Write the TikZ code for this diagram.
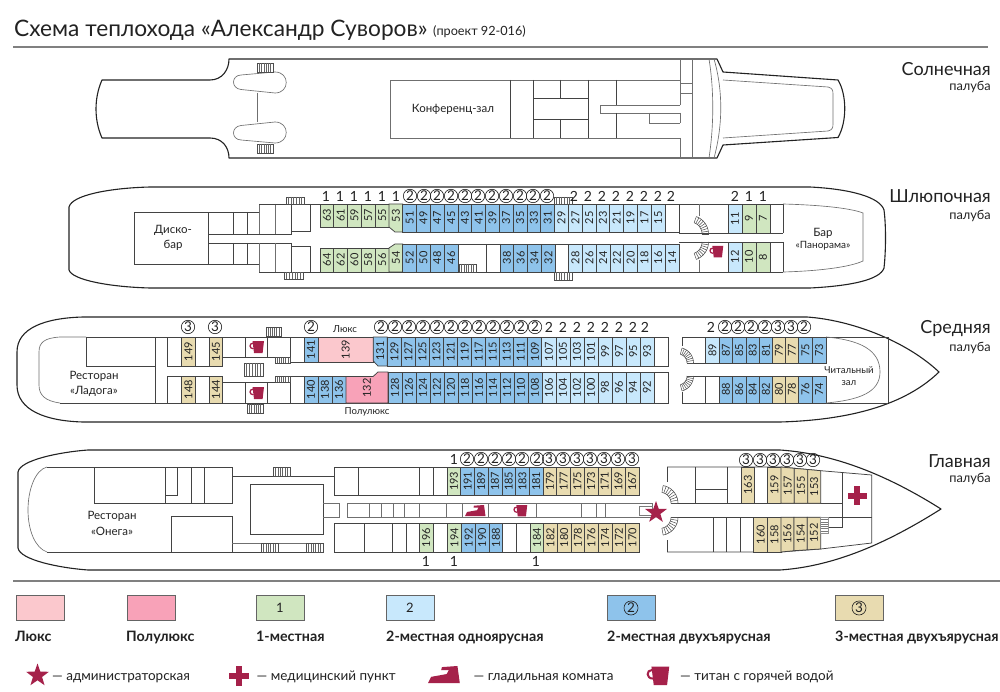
\documentclass[tikz,border=0pt]{standalone}
\usepackage{fontspec}
\setmainfont{Lato}
\usetikzlibrary{shapes.geometric}
\definecolor{lux}{HTML}{FBC8CD}
\definecolor{semi}{HTML}{F8A2B8}
\definecolor{one}{HTML}{D0E6C0}
\definecolor{twol}{HTML}{C8E8FC}
\definecolor{twod}{HTML}{8EC3EB}
\definecolor{three}{HTML}{E8DBB0}
\definecolor{crim}{HTML}{A5214A}
\definecolor{ink}{HTML}{222222}
\newcommand{\fs}[1]{\fontsize{#1}{#1}\selectfont}
\tikzset{
  hull/.style={draw=ink,line width=1.1pt,line join=round},
  wall/.style={draw=ink!85,line width=0.75pt},
  thin wall/.style={draw=ink!65,line width=0.65pt},
  cabnum/.style={rotate=90,inner sep=0pt,font=\fs{11},text=ink},
  plainnum/.style={inner sep=0pt,font=\fs{14},text=ink},
  circnum/.style={draw=ink,circle,line width=0.6pt,inner sep=0pt,minimum size=13.4pt,font=\fs{13.5},text=ink},
  deckname/.style={anchor=base east,inner sep=0pt,font=\fs{18},text=ink},
  decksub/.style={anchor=base east,inner sep=0pt,font=\fs{12.8},text=ink},
  roomtxt/.style={inner sep=0pt,font=\fs{11.5},text=ink,align=center},
  smalltxt/.style={inner sep=0pt,font=\fs{9.6},text=ink,align=center},
  legtxt/.style={anchor=base west,inner sep=0pt,font=\bfseries\fs{14.3},text=ink},
  icotxt/.style={anchor=base west,inner sep=0pt,font=\fs{13.5},text=ink},
  staredge/.style={star,star points=5,star point ratio=2.5,fill=crim,inner sep=0pt},
}
\newcommand{\cabin}[6]{%
  \path[fill=#5] (#1,#3) rectangle (#2,#4);
  \path[wall] (#1,#3) rectangle (#2,#4);
  \node[cabnum] (c#6) at ({(#1+#2)/2},{(#3+#4)/2}) {#6};}
\newcommand{\cabrow}[6]{%
  \foreach \n [count=\k from 0] in {#6}{%
    \pgfmathsetmacro\xa{#1+#2*\k}\pgfmathsetmacro\xb{\xa+#2}%
    \cabin{\xa}{\xb}{#3}{#4}{#5}{\n}}}
% colour, polygon, label x, label y, number
\newcommand{\cabpoly}[5]{%
  \path[fill=#1] #2 -- cycle;
  \path[wall] #2 -- cycle;
  \node[cabnum] (c#5) at (#3,#4) {#5};}
\newcommand{\vstair}[4]{%
  \path[fill=white,draw=ink!80,line width=0.6pt] (#1,#2) rectangle (#3,#4);
  \foreach \i in {1,...,6}{\draw[ink!70,line width=0.55pt] ({#1+(#3-#1)*\i/7},#2) -- ({#1+(#3-#1)*\i/7},#4);}}
\newcommand{\hstair}[4]{%
  \path[fill=white,draw=ink!50,line width=0.5pt] (#1,#2) rectangle (#3,#4);
  \foreach \i in {1,...,6}{\draw[ink!60,line width=0.5pt] (#1,{#2+(#4-#2)*\i/7}) -- (#3,{#2+(#4-#2)*\i/7});}}
% cx cy rin rout a1 a2
\newcommand{\cstair}[6]{%
  \draw[ink!80,line width=0.55pt] plot[domain=#5:#6,samples=12] ({#1+#3*cos(\x)},{#2+#3*sin(\x)});
  \draw[ink!80,line width=0.55pt] plot[domain=#5:#6,samples=12] ({#1+#4*cos(\x)},{#2+#4*sin(\x)});
  \foreach \i in {0,...,8}{\pgfmathsetmacro\aa{#5+(#6-#5)*\i/8}%
    \draw[ink!80,line width=0.5pt] ({#1+#3*cos(\aa)},{#2+#3*sin(\aa)}) -- ({#1+#4*cos(\aa)},{#2+#4*sin(\aa)});}}
% x y scale (top-left)
\newcommand{\mug}[3]{%
  \begin{scope}[shift={(#1,#2)},scale=#3]
    \fill[crim] (3.5,0) -- (15,0) -- (13.6,12) -- (5,12) -- cycle;
    \draw[crim,line width=#3*1.3pt] (4,2.2) .. controls (0,2.2) and (0,7.8) .. (4.5,7.8);
  \end{scope}}
\newcommand{\iron}[3]{%
  \begin{scope}[shift={(#1,#2)},scale=#3]
    \fill[crim] (0,11) -- (2,7) -- (12,5.2) -- (13.5,2.6) -- (8.5,2.6) -- (9,0.7) -- (19,0) -- (20.5,11) -- cycle;
  \end{scope}}
\newcommand{\plus}[3]{%
  \fill[crim] ({#1-#3},{#2-3}) rectangle ({#1+#3},{#2+3});
  \fill[crim] ({#1-3},{#2-#3}) rectangle ({#1+3},{#2+#3});}
\newcommand{\lone}[2]{\foreach \x in {#2}{\node[plainnum] (l\x-#1) at (\x,#1) {1};}}
\newcommand{\ltwo}[2]{\foreach \x in {#2}{\node[plainnum] (l\x-#1) at (\x,#1) {2};}}
\newcommand{\ctwo}[2]{\foreach \x in {#2}{\node[circnum] (l\x-#1) at (\x,#1) {2};}}
\newcommand{\cthree}[2]{\foreach \x in {#2}{\node[circnum] (l\x-#1) at (\x,#1) {3};}}
\begin{document}
\begin{tikzpicture}[x=1pt,y=-1pt]
\useasboundingbox (0,0) rectangle (1000,692);
\fill[white] (0,0) rectangle (1000,692);
% title
\node[anchor=base west,inner sep=0pt,font=\fs{22.7},text=ink] (title) at (14,37) {Схема теплохода «Александр Суворов»};
\node[anchor=base west,inner sep=0pt,font=\fs{12.7},text=ink] (subtitle) at (433,36) {(проект 92-016)};
\draw[gray,line width=1.4pt] (13,47) -- (988,47);
\draw[gray,line width=1.4pt] (13,581) -- (1000,581);

%% ---------- Sun deck
\path[hull] (102,80) -- (210,80) .. controls (222,80) and (229,70) .. (229,59) -- (717,59) -- (723,72) -- (838,80) .. controls (847,95) and (847,122) .. (838,137.5) -- (723,145) -- (717,158) -- (229,158) .. controls (229,147) and (222,138) .. (210,138) -- (102,138) .. controls (94,120) and (94,98) .. (102,80) -- cycle;
\path[thin wall] (723,80) -- (828,87) .. controls (832,88) and (833,90) .. (833,94) -- (833,124) .. controls (833,128) and (832,130) .. (828,131) -- (723,138);
\path[thin wall] (709,59) .. controls (714,90) and (714,125) .. (709,158);
\path[thin wall] (714,59) .. controls (723,90) and (723,125) .. (714,158);
\foreach \yy/\sg in {82.5/1,132.5/-1}{
  \path[thin wall] (241,{\yy-\sg*7.5}) -- (275,{\yy-\sg*10.5}) .. controls (290,{\yy-\sg*10.5}) and (290,{\yy+\sg*10.5}) .. (275,{\yy+\sg*10.5}) -- (241,{\yy+\sg*7}) .. controls (231,{\yy+\sg*6}) and (231,{\yy-\sg*7}) .. (241,{\yy-\sg*7.5});
}
\path[thin wall] (257,93) -- (257,122);
\vstair{257}{63.5}{273}{72}
\vstair{257}{144}{273}{153.5}
\node[roomtxt] (conf) at (453,109) {Конференц-зал};
\path[thin wall] (680,105) -- (600,105) -- (600,113) -- (680,113);
\path[thin wall] (649,113) -- (649,123) -- (680,123);
\path[thin wall] (680,59) -- (680,105) (680,113) -- (680,123) (680,138) -- (680,158) (692,59) -- (692,158);
\path[thin wall] (680,83) -- (692,83) (680,93) -- (692,93);
\path[thin wall] (680,80) -- (390,80) -- (390,138) -- (680,138);
\path[wall] (510,80) -- (510,138) (533,80) -- (533,138) (588,80) -- (588,138) (616,80) -- (616,105) (616,113) -- (616,138);
\path[wall] (533,98) -- (588,98) (533,119) -- (588,119) (560,80) -- (560,98) (560,119) -- (560,138);
\node[deckname] (n1) at (991,76) {Солнечная};
\node[decksub] (s1) at (991,91) {палуба};

%% ---------- Boat deck
\path[hull] (150,187) -- (810,187) .. controls (850,189) and (880,197) .. (884,210) .. controls (886,225) and (886,250) .. (884,268) .. controls (880,280) and (850,286) .. (810,288) -- (150,288) .. controls (110,287) and (72,280) .. (69,270) -- (69,207) .. controls (72,195) and (110,188) .. (150,187) -- cycle;
\path[wall] (134,212) rectangle (208,264);
\path[wall] (208,212) -- (259,212) (208,264) -- (259,264) (233,212) -- (233,234) (247,212) -- (247,234) (233,243) -- (233,264) (247,243) -- (247,264);
\path[wall] (208,234) -- (291.5,234) (208,243) -- (291.5,243);
\path[thin wall] (259,204) -- (259,234) (259,243) -- (259,272) (275,204) -- (275,234) (275,243) -- (275,272);
\path[wall] (291.5,204) -- (291.5,234) (291.5,243) -- (291.5,272);
\path[wall] (259,204) -- (783,204) (259,272) -- (783,272);
\path[wall] (310,204) -- (310,231) -- (291.5,231) (291.5,246) -- (310,246) -- (310,272);
\vstair{286}{197}{304}{204}
\vstair{284}{272.5}{303}{279.5}
\node[roomtxt] (disco) at (173,238) {Диско-\\[3pt]бар};
\cabrow{320}{13.8}{204}{227}{one}{63,61,59,57,55}
\cabpoly{one}{(389,204) -- (402.8,204) -- (402.8,232) -- (395,232) -- (389,227)}{396}{216}{53}
\cabrow{402.8}{13.8}{204}{232}{twod}{51,49,47,45,43,41,39,37,35,33,31}
\cabrow{554.6}{13.8}{204}{232}{twol}{29,27,25,23,21,19,17,15}
\path[wall] (665,204) rectangle (679,232);
\cabrow{320}{13.8}{248}{272}{one}{64,62,60,58,56}
\cabpoly{one}{(389,248) -- (395,244) -- (402.8,244) -- (402.8,272) -- (389,272)}{396}{258}{54}
\cabrow{402.8}{13.8}{244}{272}{twod}{52,50,48,46}
\path[wall] (458,244) -- (568.6,244) (486,244) -- (486,272) (500,244) -- (500,272);
\cabrow{500}{13.8}{244}{272}{twod}{38,36,34,32}
\cabrow{568.6}{13.8}{244}{272}{twol}{28,26,24,22,20,18,16,14}
\vstair{459}{264}{476}{272}
\vstair{554}{197}{572}{204}
\vstair{554}{272.5}{572}{280}
\lone{196}{326,340,354,368,382,396}
\ctwo{196}{410,424,437,451,465,478,492,506,520,533,547}
\ltwo{196}{574,588,602,616,630,644,658,671}
\path[wall] (679,233.5) -- (783,233.5) (679,242) -- (783,242) (783,204) -- (783,233.5) (783,242) -- (783,272);
\path[thin wall] (699,204) -- (699,216) (699,260) -- (699,272);
\cabin{728}{742}{204}{233.5}{twol}{11}
\cabin{742}{756}{204}{233.5}{one}{9}
\cabin{756}{770}{204}{233.5}{one}{7}
\cabin{728}{742}{242}{272}{twol}{12}
\cabin{742}{756}{242}{272}{one}{10}
\cabin{756}{770}{242}{272}{one}{8}
\ltwo{196}{735}
\lone{196}{749,763}
\cstair{690}{234}{12}{18.5}{-70}{0}
\cstair{690}{242}{12}{18.5}{0}{70}
\mug{709}{246}{0.95}
\path[thin wall] (783,204) .. controls (820,205) and (850,208) .. (863,213) -- (863,261) .. controls (850,267) and (820,271) .. (783,272);
\node[roomtxt] (bar) at (823,233) {Бар};
\node[smalltxt,font=\fs{10}] (pan) at (823,246) {«Панорама»};
\node[deckname] (n2) at (991,203) {Шлюпочная};
\node[decksub] (s2) at (991,220) {палуба};

%% ---------- Middle deck
\path[hull] (83,317) -- (807,317) .. controls (850,320) and (905,340) .. (939,372) .. controls (905,405) and (850,420) .. (780,422) -- (83,422) .. controls (45,421) and (17,410) .. (17,385) -- (17,352) .. controls (17,328) and (45,318) .. (83,317) -- cycle;
\path[thin wall] (86,337) -- (60,337) .. controls (45,338) and (39,342) .. (39,352) -- (39,385) .. controls (39,395) and (45,401) .. (60,403);
\path[wall] (86,337) -- (668,337) (60,403) -- (668,403);
\path[wall] (86,337) -- (86,366) -- (155,366) (155,337) -- (155,403);
\path[wall] (167,337) -- (167,366) -- (222.7,366) -- (222.7,337);
\path[wall] (167,403) -- (167,376) -- (222.7,376) -- (222.7,403);
\cabin{181.7}{195}{337}{366}{three}{149}
\cabin{209}{222.7}{337}{366}{three}{145}
\cabin{181.7}{195}{376}{403}{three}{148}
\cabin{209}{222.7}{376}{403}{three}{144}
\path[wall] (222.7,357) -- (290,357) (245,337) -- (245,357) (267.7,337) -- (267.7,357) (290,337) -- (290,357) (290,362) -- (304,362);
\path[wall] (222.7,382) -- (290,382) (245,382) -- (245,403) (267.7,382) -- (267.7,403) (290,376.6) -- (290,403) (290,376.6) -- (304,376.6);
\vstair{266}{327.5}{281}{336}
\vstair{275}{357.5}{290}{363}
\vstair{244}{363}{263}{376}
\vstair{275}{376.5}{290}{382}
\vstair{247}{404}{263}{413}
\mug{249}{341}{1}
\mug{249}{387}{1}
\cabin{304}{318}{337}{362}{twod}{141}
\cabin{318}{373.3}{337}{362}{lux}{139}
\cabpoly{twod}{(373.3,337) -- (387.3,337) -- (387.3,366) -- (378,366) -- (373.3,361)}{380.3}{351}{131}
\cabrow{387.3}{14.05}{337}{366}{twod}{129,127,125,123,121,119,117,115,113,111,109}
\cabrow{541.85}{14.05}{337}{366}{twol}{107,105,103,101,99,97,95,93}
\path[wall] (654.3,337) rectangle (668,366);
\cabrow{304}{14}{376.6}{403}{twod}{140,138,136}
\cabpoly{semi}{(346,376.6) -- (373,376.6) -- (378,372) -- (388,372) -- (388,403) -- (346,403)}{367}{388}{132}
\cabrow{388}{14}{372}{403}{twod}{128,126,124,122,120,118,116,114,112,110,108}
\cabrow{542}{14}{372}{403}{twol}{106,104,102,100,98,96,94,92}
\path[wall] (654,372) rectangle (668,403);
\cthree{327}{188,215}
\ctwo{327}{311,381,395,409,423,437,451,465,479,493,507,521,535}
\ltwo{327}{549,563,577,591,605,619,633,645}
\node[smalltxt] (luxlab) at (345,329) {Люкс};
\node[smalltxt] (semilab) at (367,412) {Полулюкс};
\path[wall] (682,337) -- (888,337) (682,403) -- (888,403) (888,337) -- (888,403);
\path[wall] (682,337) -- (682,346) (682,392) -- (682,403) (693,363) -- (826,363) (693,376) -- (826,376);
\cabin{705.7}{719.3}{337}{363}{twol}{89}
\path[wall] (705.7,376) rectangle (719.3,403);
\cabrow{719.3}{13.3}{337}{363}{twod}{87,85,83,81}
\cabrow{772.5}{13}{337}{363}{three}{79,77}
\cabrow{798.5}{13.7}{337}{363}{twod}{75,73}
\cabrow{719.3}{13.3}{376}{403}{twod}{88,86,84,82}
\cabrow{772.5}{13}{376}{403}{three}{80,78}
\cabrow{798.5}{13.7}{376}{403}{twod}{76,74}
\cstair{678}{363}{9}{15.5}{-75}{0}
\cstair{678}{376}{9}{15.5}{0}{75}
\path[thin wall] (826,337) .. controls (860,340) and (880,350) .. (880,372) .. controls (880,392) and (860,400) .. (826,403);
\ltwo{327}{711}
\ctwo{327}{725,738,751,765,804}
\cthree{327}{778,791}
\node[roomtxt] (rest1) at (94,376) {Ресторан};
\node[roomtxt] (rest2) at (94,391) {«Ладога»};
\node[fill=white,smalltxt,inner sep=0.5pt] (chit) at (849,370) {Читальный};
\node[smalltxt] (zal) at (849,383) {зал};
\node[deckname] (n3) at (991,333) {Средняя};
\node[decksub] (s3) at (991,351) {палуба};

%% ---------- Main deck
\path[hull] (88,450) -- (780,450) .. controls (840,454) and (895,480) .. (941,509) .. controls (895,538) and (840,566) .. (780,570) -- (88,570) .. controls (60,568) and (20,560) .. (18,548) -- (18,472) .. controls (20,460) and (60,452) .. (88,450) -- cycle;
\path[thin wall] (47,467) .. controls (35,470) and (28,490) .. (28,510) .. controls (28,530) and (35,548) .. (47,552);
\path[wall] (47,467) -- (232,467) (47,552) -- (323,552);
\path[wall] (94,467) -- (94,503) -- (232,503) -- (232,467) (165,467) -- (165,503) (191,467) -- (191,503) (204,467) -- (204,503) (177.7,467) -- (177.7,495) -- (165,495);
\path[wall] (232,476) -- (334,476) (334,467) -- (334,495.7) (334,467) -- (447,467) (334,495.7) -- (447,495.7) (358,467) -- (358,495.7) (419,467) -- (419,495.7) (433,467) -- (433,495.7);
\vstair{273}{467.5}{290}{476}
\path[wall] (250,484) rectangle (323,534);
\path[thin wall] (323,503) -- (339,503) -- (339,517.3) -- (323,517.3);
\path[wall] (171,552) -- (171,516.7) -- (232,516.7) -- (232,552);
\path[thin wall] (232,543) -- (323,543) -- (323,552);
\vstair{261}{543.5}{278}{552}
\vstair{306}{543.5}{323}{552}
\path[wall] (334,552) -- (334,523) -- (447.3,523) (334,552) -- (447.3,552) (364,523) -- (364,552) (392.7,523) -- (392.7,552) (406,523) -- (406,552);
\path[thin wall] (347,503) rectangle (652.7,517.3);
\foreach \x in {369,381.7,393,404.7,419,446.7,462,488.7,536.7,581.7,596.7,605.7}{\path[thin wall] (\x,503) -- (\x,517.3);}
\path[wall,draw=ink!60] (639,506) rectangle (652,515);
\iron{465}{505}{1}
\mug{513}{505}{0.95}
\cabrow{447}{13.72}{467}{495.7}{one}{193}
\cabrow{460.72}{13.72}{467}{495.7}{twod}{191,189,187,185,183,181}
\cabrow{543.04}{13.72}{467}{495.7}{three}{179,177,175,173,171,169,167}
\cabin{419.3}{433}{523}{552}{one}{196}
\path[wall] (433,523) rectangle (447.3,552);
\cabin{447.3}{461.7}{523}{552}{one}{194}
\cabrow{461.7}{13.7}{523}{552}{twod}{192,190,188}
\path[wall] (502.8,523) rectangle (516,552) (516,523) rectangle (530,552);
\cabin{530}{543.7}{523}{552}{one}{184}
\cabrow{543.7}{13.66}{523}{552}{three}{182,180,178,176,174,172,170}
\lone{459}{454}
\ctwo{459}{467,481,495,509,522,537}
\cthree{459}{549,563,577,590,604,618,632}
\lone{561}{426,454,536}
% bow part
\path[wall] (667,467) -- (781,467) -- (820.7,470.7) -- (871.7,475) -- (871.7,543) -- (820.7,549) -- (781,552) -- (667,552);
\path[wall] (667,467) -- (667,482) (667,540) -- (667,552) (678,503.3) -- (842.7,503.3) (678,517.3) -- (871.7,517.3) (695.7,467) -- (695.7,503.3) (695.7,489) -- (727.3,489) (727.3,467) -- (727.3,503.3) (713.3,517.3) -- (713.3,552) (726.7,517.3) -- (726.7,552) (740.7,517.3) -- (740.7,552) (842.7,472.5) -- (842.7,527.7) -- (820.7,527.7);
\cabin{741}{754.7}{467}{503.3}{three}{163}
\cabin{767.7}{781}{467}{503.3}{three}{159}
\cabpoly{three}{(781,467) -- (794.3,468.3) -- (794.3,503.3) -- (781,503.3)}{787.6}{485.5}{157}
\cabpoly{three}{(794.3,468.3) -- (807.7,469.5) -- (807.7,503.3) -- (794.3,503.3)}{801}{486}{155}
\cabpoly{three}{(807.7,469.5) -- (820.7,470.7) -- (820.7,503.3) -- (807.7,503.3)}{814.2}{486.5}{153}
\cabin{753.7}{767.7}{517.3}{552}{three}{160}
\cabin{767.7}{781}{517.3}{552}{three}{158}
\cabpoly{three}{(781,517.3) -- (794,517.3) -- (794,550.7) -- (781,552)}{787.5}{534}{156}
\cabpoly{three}{(794,517.3) -- (807.3,517.3) -- (807.3,549.8) -- (794,550.7)}{800.7}{533.5}{154}
\cabpoly{three}{(807.3,517.3) -- (820.7,517.3) -- (820.7,549) -- (807.3,549.8)}{814}{533}{152}
\hstair{820.7}{517.5}{828}{533}
\cstair{660}{503.3}{11}{18}{-80}{0}
\cstair{660}{517.3}{11}{18}{0}{80}
\cthree{460}{746,760,773,787,800,813}
\plus{857}{495.7}{9.5}
\node[staredge,minimum size=23pt] (admstar) at (656,512.5) {};
\node[roomtxt] (rest3) at (112,516) {Ресторан};
\node[roomtxt] (rest4) at (112,531) {«Онега»};
\node[deckname] (n4) at (991,467) {Главная};
\node[decksub] (s4) at (991,482) {палуба};

%% ---------- Legend
\foreach \xx/\cc [count=\i] in {16/lux,127/semi,256/one,386/twol,607/twod,835/three}{
  \path[fill=\cc,draw=ink!70,line width=0.7pt] (\xx,595.5) rectangle ({\xx+48},620.5);
  \coordinate (sw\i) at ({\xx+24},608);
}
\node[plainnum,font=\fs{13}] (k1) at (sw3) {1};
\node[plainnum,font=\fs{13}] (k2) at (sw4) {2};
\node[circnum,minimum size=14pt] (k3) at (sw5) {2};
\node[circnum,minimum size=14pt] (k4) at (sw6) {3};
\node[legtxt] (t1) at (15,641) {Люкс};
\node[legtxt] (t2) at (126,641) {Полулюкс};
\node[legtxt] (t3) at (256,641) {1-местная};
\node[legtxt] (t4) at (386,641) {2-местная одноярусная};
\node[legtxt] (t5) at (607,641) {2-местная двухъярусная};
\node[legtxt] (t6) at (835,641) {3-местная двухъярусная};
\node[staredge,minimum size=24pt] (i1) at (37.5,675.5) {};
\node[icotxt] (a1) at (52,680) {— администраторская};
\plus{239}{675.5}{10}
\node[icotxt] (a2) at (256.5,680) {— медицинский пункт};
\iron{428}{666}{1.55}
\node[icotxt] (a3) at (473.5,680) {— гладильная комната};
\mug{646}{666.5}{1.55}
\node[icotxt] (a4) at (680,680) {— титан с горячей водой};
\end{tikzpicture}
\end{document}
